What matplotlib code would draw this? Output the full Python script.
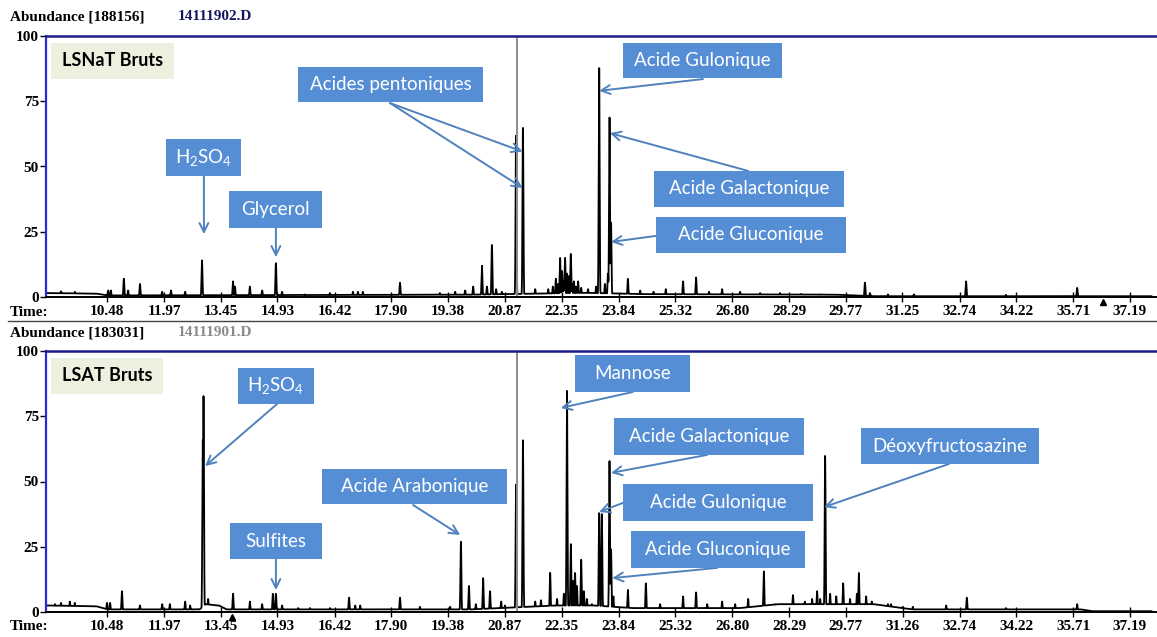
import numpy as np
import matplotlib.pyplot as plt
from matplotlib.patches import Rectangle

plt.rcParams['mathtext.fontset'] = 'custom'
plt.rcParams['mathtext.rm'] = 'Lato'
plt.rcParams['mathtext.it'] = 'Lato'

xtick_top = ['10.48', '11.97', '13.45', '14.93', '16.42', '17.90', '19.38', '20.87', '22.35', '23.84',
             '25.32', '26.80', '28.29', '29.77', '31.25', '32.74', '34.22', '35.71', '37.19']
xtick_bot = ['10.48', '11.97', '13.45', '14.93', '16.42', '17.90', '19.38', '20.87', '22.35', '23.84',
             '25.32', '26.80', '28.29', '29.77', '31.26', '32.74', '34.22', '35.71', '37.19']
yticks = [0, 25, 50, 75, 100]

# LSNaT Bruts : temps de rétention (min) et abondance (%)
top_pk_t = [9.28, 9.64, 10.51, 10.58, 10.92, 11.03, 11.34, 11.92, 12.15, 12.52, 12.96, 13.77, 13.82,
            14.21, 14.53, 14.89, 15.05, 15.65, 16.30, 16.90, 17.03, 17.16, 18.13, 19.17, 19.57, 19.83,
            20.04, 20.27, 20.40, 20.53, 20.64, 20.79, 21.16, 21.34, 21.66, 22.00, 22.12, 22.20, 22.26,
            22.31, 22.36, 22.40, 22.44, 22.49, 22.54, 22.59, 22.63, 22.67, 22.72, 22.78, 22.86, 23.04,
            23.25, 23.33, 23.48, 23.56, 23.60, 23.64, 24.08, 24.40, 24.75, 25.07, 25.52, 25.86, 26.20,
            26.54, 27.01, 27.53, 28.05, 28.60, 29.10, 30.27, 30.40, 30.87, 31.55, 32.91, 33.95, 35.81]
top_pk_h = [2.2, 2.0, 2.5, 2.5, 7.0, 2.5, 5.0, 2.0, 2.5, 2.0, 14.0, 6.0, 4.0,
            4.0, 2.5, 13.0, 2.0, 1.0, 1.5, 2.0, 2.0, 2.0, 5.5, 1.5, 2.0, 2.5,
            4.0, 12.0, 4.0, 20.0, 3.0, 2.0, 62.0, 65.0, 3.0, 3.0, 4.0, 7.0, 5.0,
            15.0, 10.0, 6.0, 15.0, 9.0, 8.0, 16.5, 5.0, 6.0, 4.0, 6.0, 3.5, 3.0,
            4.0, 88.0, 5.0, 9.0, 69.0, 28.5, 7.0, 2.5, 2.0, 3.0, 6.0, 7.5, 2.0,
            3.0, 2.0, 1.5, 1.5, 1.2, 1.0, 5.5, 1.5, 1.0, 1.0, 6.0, 0.8, 3.5]
top_base_t = [8.9, 10.2, 10.5, 20.0, 23.0, 24.5, 29.5, 30.5, 37.7]
top_base_h = [1.5, 1.3, 0.6, 0.9, 1.6, 1.1, 0.9, 0.3, 0.3]

# LSAT Bruts
bot_pk_t = [9.12, 9.28, 9.51, 9.64, 10.48, 10.56, 10.87, 11.34, 11.92, 12.12, 12.52, 12.65, 12.98, 13.00,
            13.12, 13.77, 14.21, 14.53, 14.81, 14.89, 15.05, 15.47, 15.78, 16.30, 16.80, 16.96, 17.09,
            18.13, 18.65, 19.44, 19.72, 19.93, 20.11, 20.30, 20.48, 20.77, 20.87, 21.16, 21.34, 21.66,
            21.81, 22.05, 22.23, 22.41, 22.49, 22.59, 22.64, 22.70, 22.75, 22.86, 22.93, 23.01, 23.14,
            23.33, 23.40, 23.60, 23.64, 23.70, 24.08, 24.55, 24.92, 25.52, 25.86, 26.15, 26.54, 26.88,
            27.22, 27.63, 27.92, 28.39, 28.70, 28.89, 29.02, 29.10, 29.23, 29.36, 29.52, 29.70, 29.88,
            30.06, 30.11, 30.30, 30.45, 30.66, 30.87, 30.95, 31.26, 31.52, 32.39, 32.93, 33.95, 34.58,
            35.81]
bot_pk_h = [3.0, 3.5, 4.0, 3.5, 3.5, 3.5, 8.0, 2.5, 3.0, 3.0, 4.0, 2.5, 66.0, 83.0,
            5.0, 7.0, 4.0, 3.0, 7.0, 7.0, 2.5, 1.5, 1.5, 1.5, 5.5, 2.5, 2.5,
            5.5, 2.0, 2.0, 27.0, 10.0, 3.0, 13.0, 8.0, 4.0, 2.5, 49.0, 66.0, 4.0,
            4.5, 15.0, 5.0, 7.0, 85.0, 26.0, 12.0, 15.0, 10.0, 20.0, 8.0, 5.0, 3.0,
            38.0, 37.5, 58.0, 24.0, 6.0, 8.5, 11.0, 3.0, 6.0, 7.5, 3.0, 4.0, 3.0,
            5.0, 15.5, 3.0, 6.5, 4.0, 5.0, 8.0, 5.0, 60.0, 7.0, 6.0, 11.0, 5.0,
            7.0, 15.0, 6.0, 4.0, 2.0, 3.0, 3.0, 2.0, 2.0, 2.5, 5.5, 1.5, 1.0,
            3.0]
bot_base_t = [8.9, 10.2, 10.5, 12.9, 13.05, 13.4, 13.6, 20.0, 22.2, 23.2, 24.2, 27.0, 28.0, 30.5,
              31.5, 33.0, 35.9, 36.2, 37.7]
bot_base_h = [2.5, 2.2, 1.0, 1.0, 3.0, 2.5, 1.0, 1.0, 2.5, 2.5, 1.5, 1.5, 3.0, 3.0,
              1.0, 1.0, 1.0, 0.3, 0.3]

# annotations : texte, boîte (t0, t1, a0, a1), flèches [(départ, arrivée)]
top_notes = [
    ('H$_2$SO$_4$', (12.02, 13.98, 46.4, 60.5), [((13.01, 46.4), (13.01, 24.1))]),
    ('Glycerol', (13.67, 16.09, 26.4, 40.6), [((14.89, 26.4), (14.89, 15.3))]),
    ('Acides pentoniques', (15.47, 20.30, 74.7, 88.1), [((17.87, 74.3), (21.33, 55.7)),
                                                       ((17.87, 74.3), (21.33, 41.8))]),
    ('Acide Gulonique', (23.95, 28.10, 83.9, 97.3), [((26.04, 83.5), (23.33, 79.0))]),
    ('Acide Galactonique', (24.76, 29.72, 34.5, 48.3), [((27.22, 48.3), (23.61, 62.8))]),
    ('Acide Gluconique', (24.81, 29.77, 16.9, 30.7), [((24.81, 23.4), (23.64, 21.1))]),
]
bot_notes = [
    ('H$_2$SO$_4$', (13.90, 15.88, 79.7, 93.5), [((14.92, 79.7), (13.04, 55.9))]),
    ('Sulfites', (13.69, 16.09, 20.3, 34.1), [((14.89, 20.3), (14.89, 8.4))]),
    ('Acide Arabonique', (16.09, 20.92, 41.4, 54.8), [((18.47, 41.0), (19.70, 29.5))]),
    ('Mannose', (22.70, 25.70, 84.3, 98.5), [((24.21, 84.3), (22.33, 78.2))]),
    ('Acide Galactonique', (23.72, 28.68, 60.2, 74.3), [((26.15, 60.2), (23.64, 53.3))]),
    ('Acide Gulonique', (23.95, 28.91, 34.9, 49.0), [((23.95, 41.8), (23.33, 38.3))]),
    ('Acide Gluconique', (24.16, 28.70, 16.9, 31.0), [((26.41, 16.9), (23.67, 13.0))]),
    ('Déoxyfructosazine', (30.17, 34.81, 56.7, 70.5), [((32.46, 56.7), (29.20, 40.2))]),
]

W, H = 1157, 637
T0, T1 = 8.887, 37.895
BOX = '#558ED5'
ARROW = '#4F81BD'
serif = 'Liberation Serif'


def trace(grid, pt, ph, bt, bh):
    y = np.interp(grid, bt, bh)
    for t, h in zip(pt, ph):
        y = np.maximum(y, h * np.exp(-0.5 * ((grid - t) / 0.012) ** 2))
    return y


def panel(ax, pt, ph, bt, bh, labels, title, notes, tri_t):
    grid = np.arange(T0 + 0.02, 37.75, 0.003)
    ax.plot(grid, trace(grid, pt, ph, bt, bh), color='black', lw=1.3)
    ax.axvline(21.19, color='#8c8c8c', lw=1.4)
    ax.set_xlim(T0, T1)
    ax.set_ylim(0, 100)
    ax.set_xticks([float(s) for s in labels])
    ax.set_xticklabels(labels, fontfamily=serif, fontweight='bold', fontsize=11)
    ax.set_yticks(yticks)
    ax.set_yticklabels([str(v) for v in yticks], fontfamily=serif, fontweight='bold', fontsize=11)
    ax.tick_params(axis='x', direction='inout', length=7, width=1, pad=2)
    ax.tick_params(axis='y', direction='out', length=4, width=1, pad=1)
    ax.spines['right'].set_visible(False)
    ax.spines['top'].set_color('#1c1c8a')
    ax.spines['top'].set_linewidth(1.8)
    ax.spines['left'].set_color('#2a2ad6')
    ax.spines['left'].set_linewidth(1.6)
    ax.spines['bottom'].set_linewidth(1.4)
    ax.plot(tri_t, -2.0, marker='^', color='black', ms=5, clip_on=False)

    # étiquette de l'échantillon
    wide = 'NaT' in title
    ax.add_patch(Rectangle((9.02, 83.7), 3.22 if wide else 2.92, 13.6,
                           facecolor='#EBF1DE', edgecolor='none', zorder=3))
    ax.text(9.02 + (1.61 if wide else 1.46), 90.5, title, ha='center', va='center',
            fontfamily='Lato', fontweight='bold', fontsize=13, zorder=4)

    for txt, (t0, t1, a0, a1), arrows in notes:
        for (sx, sy), (ex, ey) in arrows:
            ax.annotate('', xy=(ex, ey), xytext=(sx, sy),
                        arrowprops=dict(arrowstyle='->', color=ARROW, lw=1.4,
                                        shrinkA=0, shrinkB=0, mutation_scale=16), zorder=2)
        ax.add_patch(Rectangle((t0, a0), t1 - t0, a1 - a0, facecolor=BOX, edgecolor='none', zorder=3))
        ax.text((t0 + t1) / 2, (a0 + a1) / 2, txt, ha='center', va='center', color='white',
                fontfamily='Lato', fontsize=13.5, zorder=4)


fig = plt.figure(figsize=(W / 100, H / 100), dpi=100)
ax1 = fig.add_axes([46 / W, (H - 297) / H, (W - 46) / W, 261 / H])
ax2 = fig.add_axes([46 / W, (H - 612) / H, (W - 46) / W, 261 / H])

panel(ax1, top_pk_t, top_pk_h, top_base_t, top_base_h, xtick_top, 'LSNaT Bruts', top_notes, 36.48)
panel(ax2, bot_pk_t, bot_pk_h, bot_base_t, bot_base_h, xtick_bot, 'LSAT Bruts', bot_notes, 13.74)

# en-têtes façon ChemStation
hdr = dict(fontfamily=serif, fontweight='bold', fontsize=11, va='center')
fig.text(10 / W, 1 - 17 / H, 'Abundance [188156]', **hdr)
fig.text(178 / W, 1 - 17 / H, '14111902.D', color='#16165e', **hdr)
fig.text(10 / W, 1 - 333 / H, 'Abundance [183031]', **hdr)
fig.text(178 / W, 1 - 333 / H, '14111901.D', color='#8a8a8a', **hdr)
fig.text(10 / W, 1 - 313 / H, 'Time:', **hdr)
fig.text(10 / W, 1 - 627 / H, 'Time:', **hdr)
fig.add_artist(plt.Line2D([8 / W, 1], [1 - 321 / H, 1 - 321 / H], color='#444444', lw=1.0))

fig.savefig('out.png', dpi=100)
